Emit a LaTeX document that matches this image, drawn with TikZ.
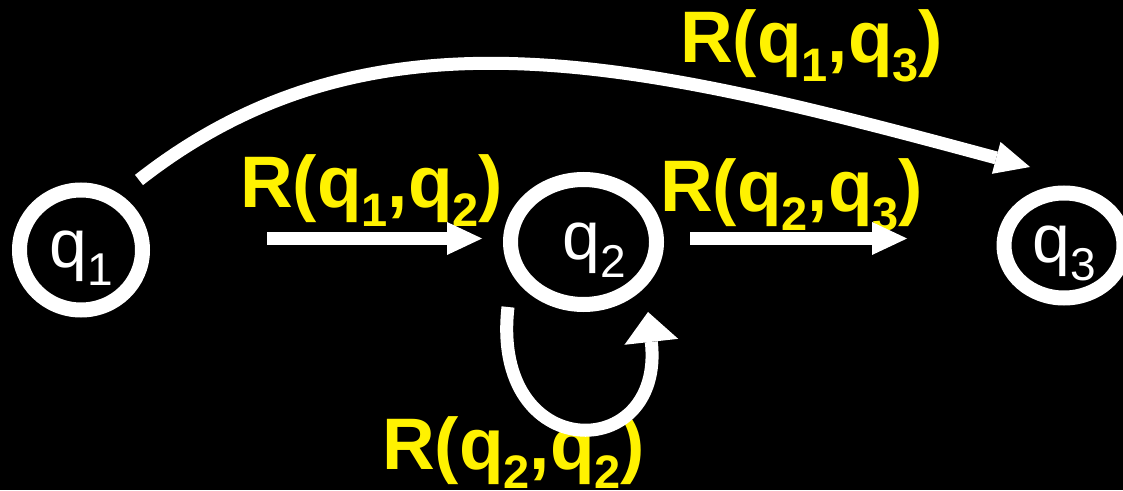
\documentclass[tikz,border=0pt]{standalone}
\usepackage{fontspec}
\setmainfont{Liberation Sans}
\usetikzlibrary{arrows.meta,shapes.geometric}
\newcommand\nsub[1]{\raisebox{-18pt}{\fontsize{46}{46}\selectfont #1}}
\newcommand\lsub[1]{\raisebox{-19pt}{\fontsize{47}{47}\selectfont #1}}
\begin{document}
\begin{tikzpicture}[x=1pt,y=1pt,
  state/.style={draw=white, line width=15pt, ellipse, inner sep=0pt, text=white,
    font=\fontsize{68}{70}\selectfont, text height=35.3pt, text depth=0.7pt},
  lbl/.style={text=yellow, font=\bfseries\fontsize{73}{80}\selectfont, inner sep=0pt, anchor=base west},
  arr/.style={draw=white, line width=13pt, -{Triangle[length=35pt,width=33pt,line width=0pt]}},
  looparr/.style={draw=white, line width=13pt, -{Triangle[length=30pt,width=54pt,line width=0pt]}}
]
\fill[black] (0,0) rectangle (1123,490);
\useasboundingbox (0,0) rectangle (1123,490);
% states
\node[state, minimum width=123pt, minimum height=120pt] (q1) at (81,240) {q\nsub{1}};
\node[state, minimum width=146pt, minimum height=125pt] (q2) at (583.5,248) {\hspace*{22pt}q\nsub{2}};
\node[state, minimum width=120pt, minimum height=105pt] (q3) at (1064,244.5) {q\nsub{3}};
% labels
\node[lbl] (l12) at (240,282) {R(q\lsub{1},q\lsub{2})};
\node[lbl] (l23) at (660,278) {R(q\lsub{2},q\lsub{3})};
\node[lbl] (l13) at (680,427) {R(q\lsub{1},q\lsub{3})};
\node[lbl] (l22) at (382,21) {R(q\lsub{2},q\lsub{2})};
% connector ends
\coordinate (a12s) at (267,251.5);
\coordinate (a12t) at (482,251.5);
\coordinate (a23s) at (690,251.5);
\coordinate (a23t) at (907,251.5);
\coordinate (a13s) at (139,310);
\coordinate (a13t) at (1030,323);
\coordinate (a22s) at (508,183);
\coordinate (a22t) at (648,178);
% connectors
\draw[arr] (a12s) -- (a12t);
\draw[arr] (a23s) -- (a23t);
\draw[arr] (a13s) .. controls (375,495) and (644,427) .. (a13t);
\draw[looparr] (a22s) .. controls (490,25) and (665,25) .. (a22t);
\end{tikzpicture}
\end{document}
